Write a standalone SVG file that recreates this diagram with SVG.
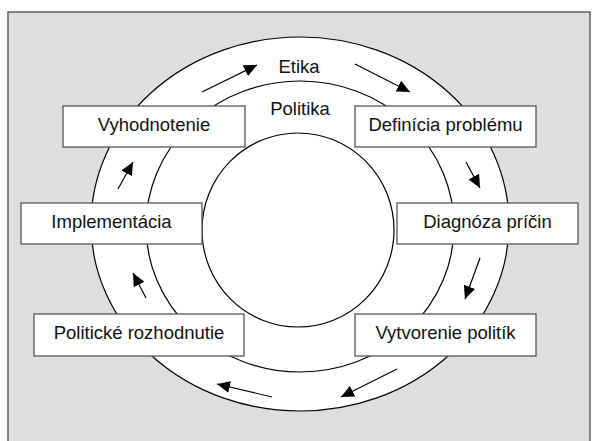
<svg xmlns="http://www.w3.org/2000/svg" width="592" height="441" viewBox="0 0 592 441">
<style>
.ring{fill:#fff;stroke:#000;stroke-width:1.2}
.box{fill:#fff;stroke:#555;stroke-width:1.3}
.lbl{font-family:"Liberation Sans",Arial,sans-serif;font-size:18.5px;fill:#111;text-anchor:middle}
.arr{stroke:#000;stroke-width:1.2;fill:none;marker-end:url(#ah)}
</style>
<defs>
<marker id="ah" markerUnits="userSpaceOnUse" markerWidth="14" markerHeight="12" refX="13" refY="6" orient="auto">
<path d="M0,0 L13,6 L0,12 Z" fill="#000"/>
</marker>
</defs>
<rect x="8" y="12" width="582" height="440" fill="#dedede" stroke="#555" stroke-width="1.4"/>
<g id="rings">
<ellipse class="ring" cx="300" cy="224" rx="209" ry="187"/>
<ellipse class="ring" cx="300" cy="226.5" rx="154" ry="145.5"/>
<ellipse class="ring" cx="298" cy="230" rx="96" ry="97"/>
<text class="lbl" x="299" y="72.5">Etika</text>
<text class="lbl" x="300" y="115">Politika</text>
</g>
<g id="connectors">
<line class="arr" x1="202" y1="92" x2="257" y2="65"/>
<line class="arr" x1="355" y1="64" x2="410" y2="92"/>
<line class="arr" x1="466" y1="162" x2="480" y2="188"/>
<line class="arr" x1="480" y1="258" x2="465" y2="299"/>
<line class="arr" x1="397" y1="369" x2="341" y2="397"/>
<line class="arr" x1="272" y1="397" x2="217" y2="384"/>
<line class="arr" x1="146" y1="298" x2="133" y2="273"/>
<line class="arr" x1="118" y1="189" x2="133" y2="162"/>
</g>
<g id="n-vyhodnotenie">
<rect class="box" x="63" y="106" width="182" height="41"/>
<text class="lbl" x="154" y="130.5">Vyhodnotenie</text>
</g>
<g id="n-definicia">
<rect class="box" x="355" y="106" width="181" height="41"/>
<text class="lbl" x="445.5" y="130.5">Definícia problému</text>
</g>
<g id="n-implementacia">
<rect class="box" x="21" y="203" width="181" height="41"/>
<text class="lbl" x="111.5" y="227.5">Implementácia</text>
</g>
<g id="n-diagnoza">
<rect class="box" x="397" y="203" width="181" height="41"/>
<text class="lbl" x="487.5" y="227.5">Diagnóza príčin</text>
</g>
<g id="n-rozhodnutie">
<rect class="box" x="34" y="314" width="210" height="42"/>
<text class="lbl" x="139" y="339">Politické rozhodnutie</text>
</g>
<g id="n-vytvorenie">
<rect class="box" x="355" y="314" width="181" height="42"/>
<text class="lbl" x="445.5" y="339">Vytvorenie politík</text>
</g>
</svg>
